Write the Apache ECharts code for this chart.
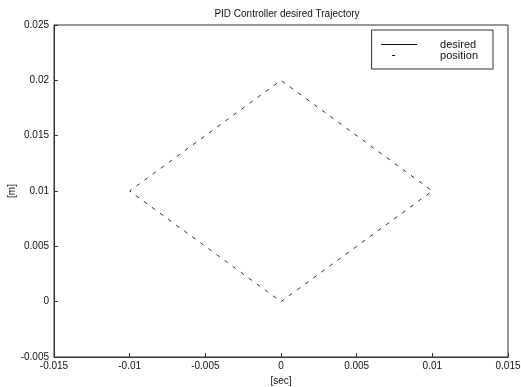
<!DOCTYPE html>
<html>
<head>
<meta charset="utf-8">
<script src="https://cdn.jsdelivr.net/npm/echarts@6/dist/echarts.min.js"></script>
<style>
  html, body { margin: 0; padding: 0; background: #fff; }
  #chart { width: 521px; height: 387px; }
</style>
</head>
<body>
<div id="chart"></div>
<script>
// Trajectory corners (x in sec-axis units, y in metres), closed loop
const positionX = [0, 0.01, 0, -0.01, 0];
const positionY = [0, 0.01, 0.02, 0.01, 0];
const desiredX = [];
const desiredY = [];

const xTicks = [-0.015, -0.01, -0.005, 0, 0.005, 0.01, 0.015];
const yTicks = [-0.005, 0, 0.005, 0.01, 0.015, 0.02, 0.025];

function fmt(v) {
  const r = Math.round(v * 1000) / 1000;
  if (r === 0) return '0';
  return String(r);
}

const pairs = (xs, ys) => xs.map((x, i) => [x, ys[i]]);

const font = '"Liberation Sans", Arial, sans-serif';

const chart = echarts.init(document.getElementById('chart'));
chart.setOption({
  animation: false,
  backgroundColor: '#fff',
  title: {
    text: 'PID Controller desired Trajectory',
    left: 282, top: 4,
    textAlign: 'center',
    textStyle: { fontFamily: font, fontSize: 10, fontWeight: 'normal', color: '#111' }
  },
  grid: {
    left: 54, right: 13, top: 25, bottom: 30,
    outerBoundsMode: 'none',
    containLabel: false,
    show: true, borderColor: '#333', borderWidth: 1
  },
  legend: {
    show: true,
    orient: 'vertical',
    right: 28, top: 30,
    backgroundColor: '#fff',
    borderColor: '#333', borderWidth: 1,
    padding: [9, 15, 8, 9],
    itemWidth: 36, itemHeight: 10, itemGap: 0,
    itemStyle: { opacity: 0 },
    textStyle: { fontFamily: font, fontSize: 11, color: '#111', padding: [0, 0, 0, 18] },
    data: [
      { name: 'desired', itemStyle: { opacity: 0 }, lineStyle: { type: 'solid', color: '#111', width: 1 } },
      { name: 'position', itemStyle: { opacity: 0 }, lineStyle: { type: [3, 40], dashOffset: -11, color: '#111', width: 1 } }
    ]
  },
  xAxis: {
    type: 'value',
    min: xTicks[0], max: xTicks[xTicks.length - 1], interval: 0.005,
    name: '[sec]', nameLocation: 'middle', nameGap: 16,
    nameTextStyle: { fontFamily: font, fontSize: 10, color: '#111' },
    axisLine: { show: true, onZero: false, lineStyle: { color: '#333' } },
    axisTick: { show: true, inside: true, length: 4, lineStyle: { color: '#333' } },
    axisLabel: { fontFamily: font, fontSize: 10, color: '#111', margin: 4, formatter: fmt },
    splitLine: { show: false }
  },
  yAxis: {
    type: 'value',
    min: yTicks[0], max: yTicks[yTicks.length - 1], interval: 0.005,
    name: '[m]', nameLocation: 'middle', nameGap: 37, nameRotate: 90,
    nameMoveOverlap: false,
    nameTextStyle: { fontFamily: font, fontSize: 10, color: '#111' },
    axisLine: { show: true, onZero: false, lineStyle: { color: '#333' } },
    axisTick: { show: true, inside: true, length: 4, lineStyle: { color: '#333' } },
    axisLabel: { fontFamily: font, fontSize: 10, color: '#111', margin: 5, formatter: fmt },
    splitLine: { show: false }
  },
  series: [
    {
      name: 'desired', type: 'line', symbol: 'none',
      data: pairs(desiredX, desiredY),
      itemStyle: { color: '#111' },
      lineStyle: { color: '#111', width: 1 }
    },
    {
      name: 'position', type: 'line', symbol: 'none',
      data: pairs(positionX, positionY),
      itemStyle: { color: '#333' },
      lineStyle: { color: '#333', width: 1, type: [4, 6] }
    }
  ]
});
</script>
</body>
</html>
